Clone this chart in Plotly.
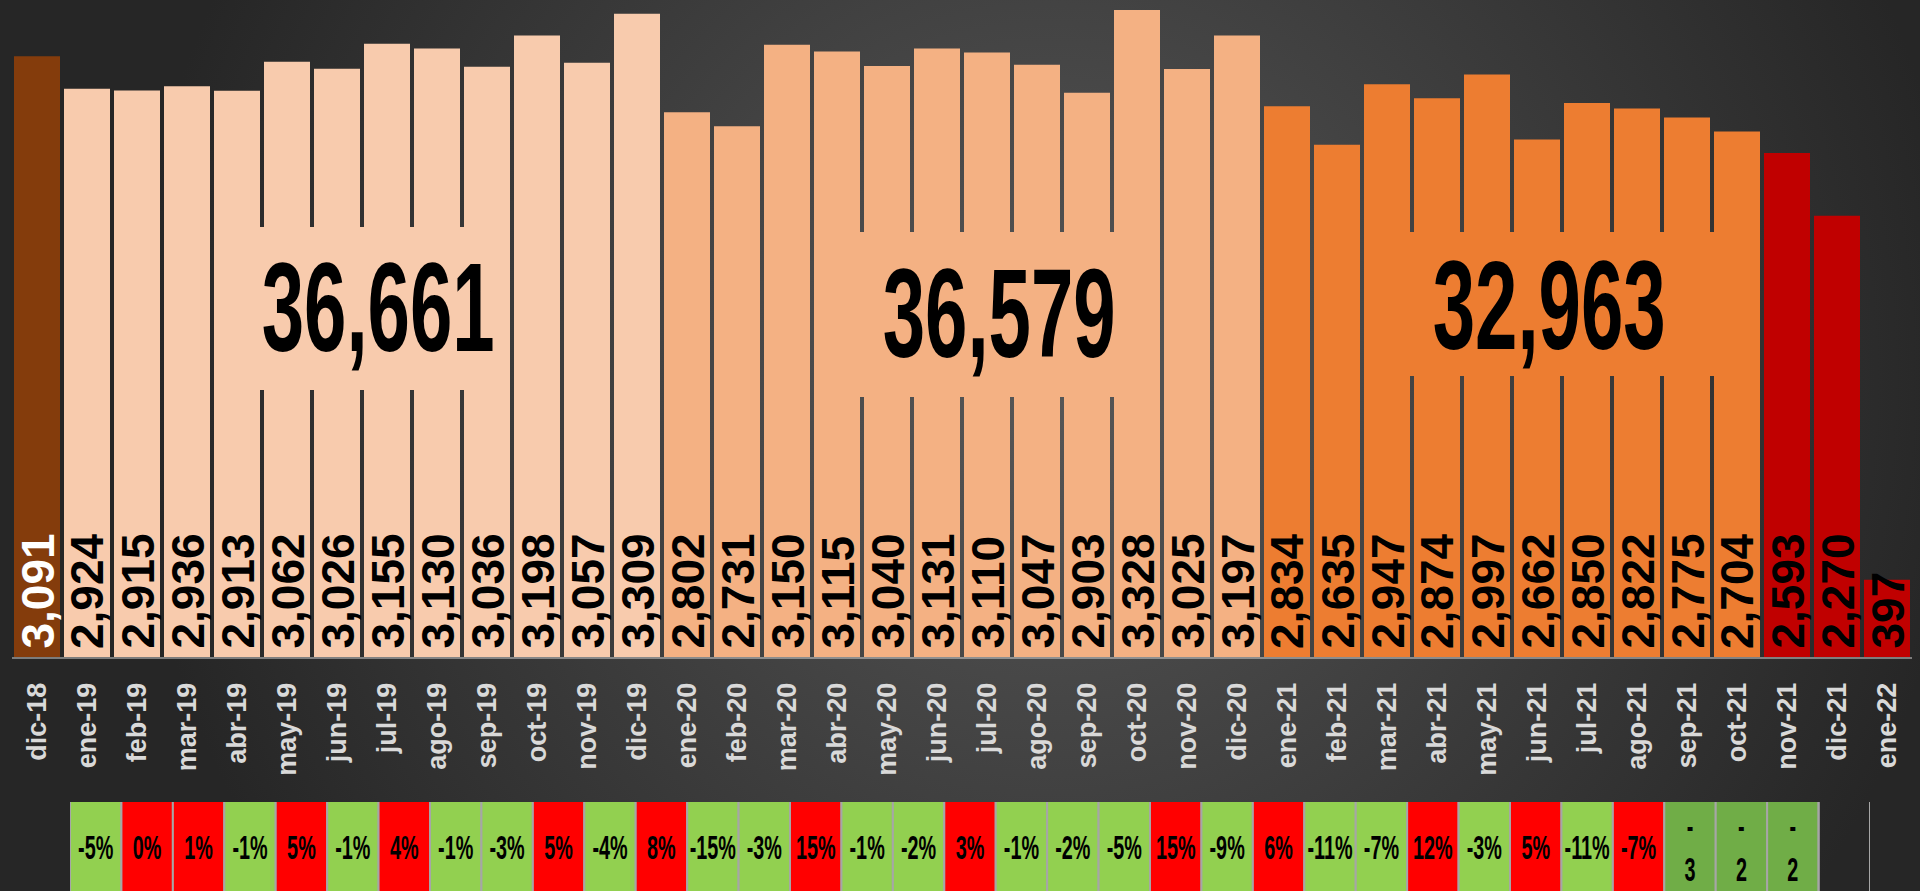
import base64
import plotly.graph_objects as go

# monthly figures
months = ['dic-18',
          'ene-19', 'feb-19', 'mar-19', 'abr-19', 'may-19', 'jun-19',
          'jul-19', 'ago-19', 'sep-19', 'oct-19', 'nov-19', 'dic-19',
          'ene-20', 'feb-20', 'mar-20', 'abr-20', 'may-20', 'jun-20',
          'jul-20', 'ago-20', 'sep-20', 'oct-20', 'nov-20', 'dic-20',
          'ene-21', 'feb-21', 'mar-21', 'abr-21', 'may-21', 'jun-21',
          'jul-21', 'ago-21', 'sep-21', 'oct-21', 'nov-21', 'dic-21',
          'ene-22']
sales = [3091,
         2924, 2915, 2936, 2913, 3062, 3026, 3155, 3130, 3036, 3198, 3057, 3309,
         2802, 2731, 3150, 3115, 3040, 3131, 3110, 3047, 2903, 3328, 3025, 3197,
         2834, 2635, 2947, 2874, 2997, 2662, 2850, 2822, 2775, 2704, 2593, 2270,
         397]
year = ['2018'] + ['2019'] * 12 + ['2020'] * 12 + ['2021'] * 12 + ['2022']
period = ['prev'] + ['y19'] * 12 + ['y20'] * 12 + ['y21'] * 10 + ['last'] * 3

# variation row (one cell per month, ene-19 .. nov-21)
change_text = ['-5%', '0%', '1%', '-1%', '5%', '-1%', '4%', '-1%', '-3%', '5%',
               '-4%', '8%', '-15%', '-3%', '15%', '-1%', '-2%', '3%', '-1%', '-2%',
               '-5%', '15%', '-9%', '6%', '-11%', '-7%', '12%', '-3%', '5%', '-11%',
               '-7%', '-<br>3', '-<br>2', '-<br>2', '']
change_flag = ['down', 'up', 'up', 'down', 'up', 'down', 'up', 'down', 'down', 'up',
               'down', 'up', 'down', 'down', 'up', 'down', 'down', 'up', 'down', 'down',
               'down', 'up', 'down', 'up', 'down', 'down', 'up', 'down', 'up', 'down',
               'up', 'wrap', 'wrap', 'wrap', 'none']
change_months = months[1:36]

bar_colors = {'prev': '#843c0c', 'y19': '#f8cbad', 'y20': '#f4b183',
              'y21': '#ed7d31', 'last': '#c00000'}
cell_colors = {'down': '#92d050', 'up': '#ff0000', 'wrap': '#70ad47',
               'none': 'rgba(0,0,0,0)'}

BOLD = 'Liberation Sans, Arial, sans-serif'
TOTAL_SIZE = 127
CELL_SIZE = 33

W, H = 1920, 891

bg_svg = f'''<svg xmlns="http://www.w3.org/2000/svg" width="{W}" height="{H}">
<defs><radialGradient id="g" gradientUnits="userSpaceOnUse" cx="1050" cy="380" r="920">
<stop offset="0" stop-color="#575757"/><stop offset="1" stop-color="#262626"/>
</radialGradient></defs><rect width="{W}" height="{H}" fill="url(#g)"/></svg>'''
bg_uri = 'data:image/svg+xml;base64,' + base64.b64encode(bg_svg.encode()).decode()

fig = go.Figure()

fig.add_trace(go.Bar(
    x=months, y=sales,
    marker=dict(color=[bar_colors[p] for p in period], line=dict(width=0)),
    hoverinfo='skip', showlegend=False,
))

# cells of the variation row
fig.add_trace(go.Bar(
    x=change_months, y=[1] * len(change_months), base=0,
    width=[1] * len(change_months),
    marker=dict(color=[cell_colors[f] for f in change_flag],
                line=dict(color='#a6a6a6', width=2)),
    xaxis='x2', yaxis='y2', hoverinfo='skip', showlegend=False,
))
fig.add_trace(go.Scatter(
    x=change_months, y=[0.45] * len(change_months), mode='text',
    text=change_text, textposition='middle center',
    textfont=dict(family=BOLD, size=CELL_SIZE, color='black', weight='bold'),
    xaxis='x2', yaxis='y2', hoverinfo='skip', showlegend=False,
))

annotations = []
for m, v, p in zip(months, sales, period):
    annotations.append(dict(
        x=m, y=0, xref='x', yref='y', text=f'{v:,}', textangle=-90,
        showarrow=False, xanchor='center', yanchor='bottom', yshift=6,
        font=dict(family=BOLD, size=46, weight='bold',
                  color='white' if p == 'prev' else 'black'),
    ))

# yearly totals, on a box that hides the bar gaps
totals = {y: sum(v for v, yy in zip(sales, year) if yy == y) for y in ['2019', '2020', '2021']}
total_boxes = [  # year, text x, text y, box x0, x1, y0, y1
    ('2019', 6.82, 1803, 4.46, 9.42, 1374, 2212),
    ('2020', 19.24, 1772, 16.26, 22.06, 1338, 2186),
    ('2021', 30.24, 1811, 26.94, 33.92, 1446, 2186),
]
group_of = {'2019': 'y19', '2020': 'y20', '2021': 'y21'}
shapes = []
for y, tx, ty, x0, x1, y0, y1 in total_boxes:
    shapes.append(dict(type='rect', xref='x', yref='y', x0=x0, x1=x1, y0=y0, y1=y1,
                       fillcolor=bar_colors[group_of[y]], line=dict(width=0),
                       layer='above'))
    annotations.append(dict(
        x=tx, y=ty, xref='x', yref='y', text=f'{totals[y]:,}', showarrow=False,
        xanchor='center', yanchor='middle',
        font=dict(family=BOLD, size=TOTAL_SIZE, weight='bold', color='black'),
    ))

fig.update_layout(
    width=W, height=H,
    margin=dict(l=0, r=0, t=0, b=0),
    paper_bgcolor='#363636', plot_bgcolor='rgba(0,0,0,0)',
    bargap=0.08,
    images=[dict(source=bg_uri, xref='paper', yref='paper', x=0, y=1,
                 sizex=1, sizey=1, xanchor='left', yanchor='top',
                 sizing='stretch', layer='below')],
    xaxis=dict(domain=[12 / W, 1912 / W], type='category', range=[-0.5, 37.5],
               tickangle=-90, ticklabelstandoff=13,
               tickfont=dict(family=BOLD, size=27, color='#d9d9d9', weight='bold'),
               showline=True, linecolor='rgba(255,255,255,0.4)', linewidth=2,
               showgrid=False, zeroline=False, ticks=''),
    yaxis=dict(domain=[(H - 657) / H, 1], range=[0, 3380], visible=False),
    xaxis2=dict(domain=[70 / W, 1870 / W], anchor='y2', type='category',
                range=[-0.5, 34.5], visible=False),
    yaxis2=dict(domain=[0, (H - 802) / H], anchor='x2', range=[0.02, 0.98],
                visible=False),
    shapes=shapes,
    annotations=annotations,
)

# squeeze the totals and the cell texts horizontally (condensed look)
squeeze_js = """
var gd = document.getElementById('{plot_id}');
function squeeze(sel, size, s) {
  gd.querySelectorAll(sel).forEach(function (t) {
    if (Math.round(parseFloat(t.style.fontSize)) !== size) { return; }
    var b = t.getBBox();
    var cx = b.x + b.width / 2;
    var tr = t.getAttribute('transform') || '';
    t.setAttribute('transform', tr + ' translate(' + cx + ',0) scale(' + s + ',1) translate(' + (-cx) + ',0)');
  });
}
squeeze('.annotation-text', %d, 0.6);
squeeze('.textpoint text', %d, 0.6);
document.body.style.margin = '0';
""" % (TOTAL_SIZE, CELL_SIZE)

fig.write_html('out.html', post_script=squeeze_js, config={'displayModeBar': False})
